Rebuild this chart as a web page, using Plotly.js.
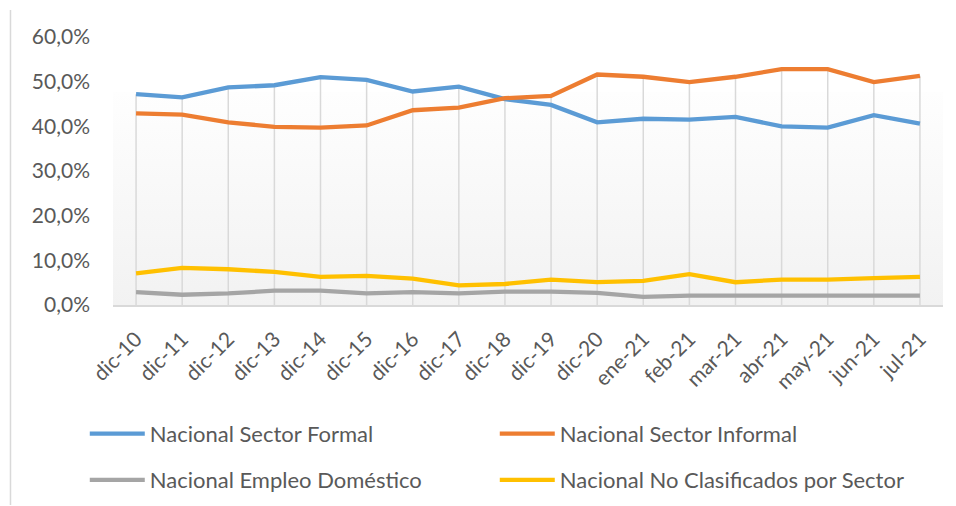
<!DOCTYPE html>
<html>
<head>
<meta charset="utf-8">
<script src="https://cdn.plot.ly/plotly-3.0.1.min.js"></script>
<style>html,body{margin:0;padding:0;background:#fff;}#chart{width:956px;height:506px;}</style>
</head>
<body>
<div id="chart"></div>
<script>
const categories = ["dic-10","dic-11","dic-12","dic-13","dic-14","dic-15","dic-16","dic-17","dic-18","dic-19","dic-20","ene-21","feb-21","mar-21","abr-21","may-21","jun-21","jul-21"];
const formal     = [47.2,46.5,48.7,49.2,51.0,50.4,47.8,48.9,46.1,44.8,40.9,41.7,41.5,42.1,40.0,39.7,42.5,40.6];
const informal   = [42.9,42.6,40.9,39.9,39.7,40.2,43.6,44.2,46.3,46.8,51.6,51.1,49.9,51.1,52.8,52.8,49.9,51.3];
const domestico  = [2.9,2.3,2.6,3.2,3.2,2.6,2.9,2.6,3.0,3.0,2.7,1.8,2.1,2.1,2.1,2.1,2.1,2.1];
const noClasif   = [7.1,8.3,8.0,7.4,6.3,6.5,5.9,4.4,4.7,5.7,5.1,5.4,6.9,5.1,5.7,5.7,6.0,6.3];
const seriesNames = ["Nacional Sector Formal","Nacional Sector Informal","Nacional Empleo Doméstico","Nacional No Clasificados por Sector"];
const yTickVals = [0,10,20,30,40,50,60];
const yTickText = ["0,0%","10,0%","20,0%","30,0%","40,0%","50,0%","60,0%"];

const FONT = "Lato, 'Open Sans', sans-serif";

// drop lines from the highest point of each category to the axis
const dx = [], dy = [];
categories.forEach((c, i) => {
  const m = Math.max(formal[i], informal[i], domestico[i], noClasif[i]);
  dx.push(c, c, null); dy.push(m, 0, null);
});

const traces = [
  {x: dx, y: dy, type: "scatter", mode: "lines", line: {color: "#D9D9D9", width: 1.5}, showlegend: false, hoverinfo: "skip"},
  {x: categories, y: formal, name: seriesNames[0], type: "scatter", mode: "lines", line: {color: "#5B9BD5", width: 4.3}, legend: "legend"},
  {x: categories, y: informal, name: seriesNames[1], type: "scatter", mode: "lines", line: {color: "#ED7D31", width: 4.3}, legend: "legend"},
  {x: categories, y: domestico, name: seriesNames[2], type: "scatter", mode: "lines", line: {color: "#A5A5A5", width: 4.3}, legend: "legend2"},
  {x: categories, y: noClasif, name: seriesNames[3], type: "scatter", mode: "lines", line: {color: "#FFC000", width: 4.3}, legend: "legend2"}
];

const grad = '<svg xmlns="http://www.w3.org/2000/svg" width="100" height="100" preserveAspectRatio="none"><defs><linearGradient id="g" x1="0" y1="0" x2="0" y2="1"><stop offset="0" stop-color="#FEFEFE"/><stop offset="1" stop-color="#F2F2F2"/></linearGradient></defs><rect width="100" height="100" fill="url(#g)"/></svg>';

const legendCommon = {orientation: "h", font: {family: FONT, size: 22, color: "#595959"}, entrywidth: 340, entrywidthmode: "pixels", itemwidth: 55, bgcolor: "rgba(0,0,0,0)", xanchor: "left", yanchor: "middle", itemclick: false};

const layout = {
  width: 956, height: 506,
  margin: {l: 113, r: 13, t: 37, b: 201, autoexpand: false},
  paper_bgcolor: "#fff", plot_bgcolor: "rgba(0,0,0,0)",
  font: {family: FONT, color: "#595959"},
  xaxis: {
    type: "category", range: [-0.5, 17.5], showgrid: false, zeroline: false,
    showline: true, linecolor: "#D9D9D9", linewidth: 1.5, automargin: false,
    ticks: "", tickangle: -45, tickfont: {family: FONT, size: 21, color: "#595959"}, ticklabelstandoff: 12, fixedrange: true
  },
  yaxis: {
    range: [0, 60], tickvals: yTickVals, ticktext: yTickText, automargin: false,
    showgrid: false, zeroline: false, showline: false, ticks: "",
    tickfont: {family: FONT, size: 21, color: "#595959"}, ticklabelstandoff: 22, fixedrange: true
  },
  images: [{source: "data:image/svg+xml;charset=utf-8," + encodeURIComponent(grad), xref: "x", yref: "y", x: -0.5, y: 47.7, sizex: 18, sizey: 47.7, sizing: "stretch", xanchor: "left", yanchor: "top", layer: "below"}],
  shapes: [{type: "line", xref: "paper", yref: "paper", x0: -0.1235, x1: -0.1235, y0: -0.746, y1: 1.101, line: {color: "#D9D9D9", width: 1.5}}],
  legend: Object.assign({}, legendCommon, {x: -0.034, y: -0.481}),
  legend2: Object.assign({}, legendCommon, {x: -0.034, y: -0.653}),
  showlegend: true
};

Plotly.newPlot("chart", traces, layout, {displayModeBar: false, staticPlot: true});
</script>
</body>
</html>
